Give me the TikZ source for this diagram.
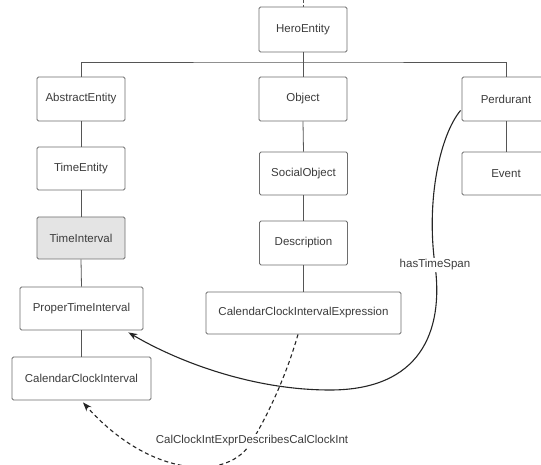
\documentclass[tikz,border=0pt]{standalone}
\usepackage{fontspec}
\setmainfont{Liberation Sans}
\usetikzlibrary{arrows.meta,calc}
\definecolor{txt}{HTML}{3C3C3C}
\definecolor{boxline}{HTML}{6E6E6E}
\definecolor{treeline}{HTML}{555555}
\definecolor{shade}{HTML}{E4E4E4}
\tikzset{
  cls/.style={draw=boxline, line width=0.8pt, rounded corners=1.5pt, fill=white,
    text=txt, minimum height=#1, inner sep=0pt,
    font=\fontsize{11.5}{13}\selectfont},
  cls/.default=44pt,
  treeedge/.style={draw=treeline, line width=0.8pt},
  relarrow/.style={draw=black!85, line width=1.1pt, -{Stealth[length=9pt,width=6.5pt]}},
  lbl/.style={fill=white, text=txt, inner sep=1.5pt, font=\fontsize{11.5}{13}\selectfont}
}
\begin{document}
\begin{tikzpicture}[x=1pt,y=-1pt]
\useasboundingbox (0,0) rectangle (541,465);
\fill[white] (0,0) rectangle (541,465);
% nodes
\node[cls=45pt, minimum width=88pt] (hero) at (303,29.5) {HeroEntity};
\node[cls, minimum width=88pt] (abs) at (81,99) {AbstractEntity};
\node[cls, minimum width=88pt] (obj) at (303,99) {Object};
\node[cls, minimum width=88pt] (perd) at (506,99) {Perdurant};
\node[cls=43pt, minimum width=88pt] (tent) at (81,168.5) {TimeEntity};
\node[cls=43pt, minimum width=88pt] (soc) at (303.5,173.5) {SocialObject};
\node[cls=43pt, minimum width=88pt] (event) at (506,173.5) {Event};
\node[cls=42pt, minimum width=88pt, fill=shade] (tint) at (81,238) {TimeInterval};
\node[cls=44pt, minimum width=88pt] (desc) at (303.5,243) {Description};
\node[cls=43pt, minimum width=123pt] (pti) at (81.5,308.5) {ProperTimeInterval};
\node[cls=42pt, minimum width=195pt] (ccie) at (303.5,313) {CalendarClockIntervalExpression};
\node[cls=43pt, minimum width=139pt] (cci) at (81.5,378.5) {CalendarClockInterval};
% tree connectors
\coordinate (top) at (303,0);
\coordinate (bus) at (303,62);
\draw[treeedge, dashed, dash pattern=on 3pt off 2pt] (top) -- (hero.north);
\draw[treeedge] (hero.south) -- (obj.north);
\draw[treeedge] (abs.north) |- (bus) -| (perd.north);
\draw[treeedge] (abs.south) -- (tent.north);
\draw[treeedge] (tent.south) -- (tint.north);
\draw[treeedge] (tint.south) -- (pti.north);
\draw[treeedge] (pti.south) -- (cci.north);
\draw[treeedge] (obj.south) -- (soc.north);
\draw[treeedge] (soc.south) -- (desc.north);
\draw[treeedge] (desc.south) -- (ccie.north);
\draw[treeedge] (perd.south) -- (event.north);
% hasTimeSpan
\draw[relarrow] ($(perd.south west)+(-1,-11)$)
  .. controls (440,135) and (426,200) .. (435,265) node[lbl] {hasTimeSpan}
  .. controls (444,332) and (420,390) .. (330,390)
  .. controls (250,390) and (175,360) .. ($(pti.south east)+(-15,2)$);
% CalClockIntExprDescribesCalClockInt
\draw[relarrow, dash pattern=on 4pt off 3pt] ($(ccie.south)+(-5.5,0)$)
  .. controls (285,380) and (265,420) .. (252,441) node[lbl] {CalClockIntExprDescribesCalClockInt}
  .. controls (230,482) and (150,478) .. ($(cci.south)+(1.5,2)$);
\end{tikzpicture}
\end{document}
